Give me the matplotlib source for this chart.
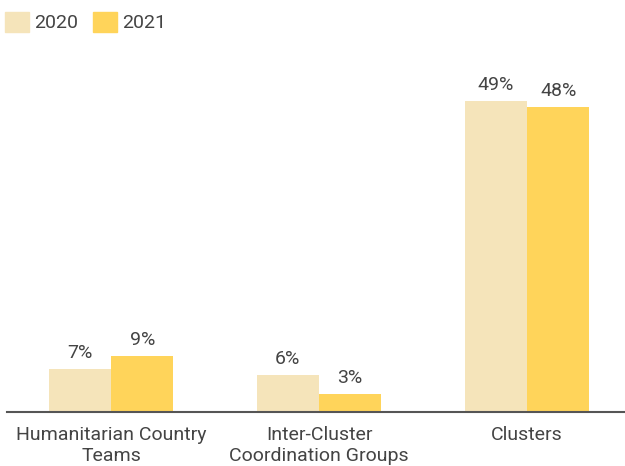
import numpy as np
import matplotlib.pyplot as plt
from matplotlib.patches import Patch

plt.rcParams["font.family"] = ["Roboto", "DejaVu Sans"]

categories = ["Humanitarian Country\nTeams", "Inter-Cluster\nCoordination Groups", "Clusters"]
values_2020 = [6.8, 5.8, 49.0]
values_2021 = [8.8, 2.8, 48.0]
labels_2020 = ["7%", "6%", "49%"]
labels_2021 = ["9%", "3%", "48%"]
series = ["2020", "2021"]

c2020 = "#F5E4BA"
c2021 = "#FFD45A"
text_c = "#444444"

fig = plt.figure(figsize=(6.25, 4.66), dpi=100)
ax = fig.add_axes([7 / 625, 54 / 466, 624 / 625, 362 / 466])

x = np.arange(len(categories))
w = 0.3
b1 = ax.bar(x - w / 2, values_2020, w, color=c2020)
b2 = ax.bar(x + w / 2, values_2021, w, color=c2021)

for bars, labs in ((b1, labels_2020), (b2, labels_2021)):
    for bar, lab in zip(bars, labs):
        ax.annotate(lab, (bar.get_x() + bar.get_width() / 2, bar.get_height()),
                    xytext=(0, 5), textcoords="offset points",
                    ha="center", va="bottom", fontsize=14, color=text_c)

ax.set_xlim(-0.5, 2.5)
ax.set_ylim(0, 57)
ax.set_xticks(x)
ax.set_xticklabels(categories, fontsize=14, color=text_c, linespacing=1.2)
ax.tick_params(axis="x", length=0, pad=10)
ax.set_yticks([])
for s in ["top", "right", "left"]:
    ax.spines[s].set_visible(False)
ax.spines["bottom"].set_color("#555555")
ax.spines["bottom"].set_linewidth(1.5)

handles = [Patch(color=c2020), Patch(color=c2021)]
fig.legend(handles, series, loc="upper left", bbox_to_anchor=(-0.01, 1.0),
           ncol=2, frameon=False, fontsize=14, handlelength=1.2,
           handleheight=1.2, handletextpad=0.3, columnspacing=0.75,
           labelcolor=text_c, borderaxespad=0.2)

fig.savefig("out.png", dpi=100)
